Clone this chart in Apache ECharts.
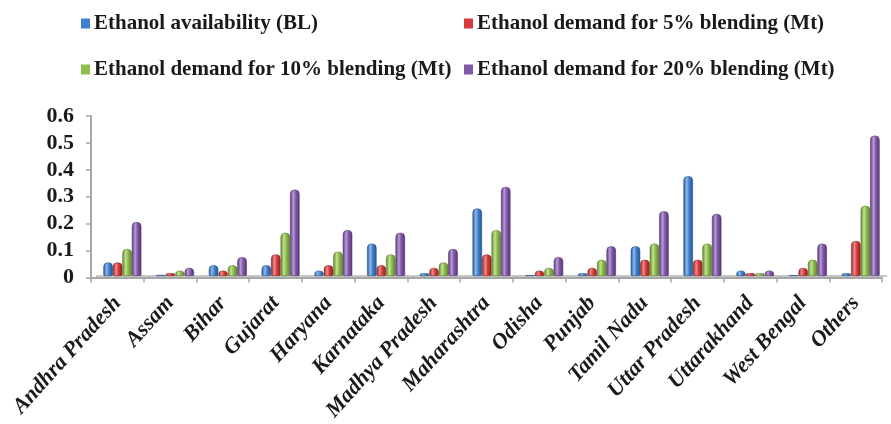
<!DOCTYPE html>
<html>
<head>
<meta charset="utf-8">
<script src="https://cdn.jsdelivr.net/npm/echarts@6/dist/echarts.min.js"></script>
<style>
html,body{margin:0;padding:0;background:#fff;}
#chart{width:891px;height:424px;}
</style>
</head>
<body>
<div id="chart"></div>
<script>
var categories = ['Andhra Pradesh','Assam','Bihar','Gujarat','Haryana','Karnataka','Madhya Pradesh','Maharashtra','Odisha','Punjab','Tamil Nadu','Uttar Pradesh','Uttarakhand','West Bengal','Others'];
var seriesNames = ['Ethanol availability (BL)','Ethanol demand for 5% blending (Mt)','Ethanol demand for 10% blending (Mt)','Ethanol demand for 20% blending (Mt)'];
var availability = [0.05,0.004,0.04,0.04,0.02,0.12,0.01,0.25,0.003,0.01,0.11,0.37,0.02,0.003,0.01];
var demand5  = [0.05,0.01,0.02,0.08,0.04,0.04,0.03,0.08,0.02,0.03,0.06,0.06,0.01,0.03,0.13];
var demand10 = [0.10,0.02,0.04,0.16,0.09,0.08,0.05,0.17,0.03,0.06,0.12,0.12,0.01,0.06,0.26];
var demand20 = [0.20,0.03,0.07,0.32,0.17,0.16,0.10,0.33,0.07,0.11,0.24,0.23,0.02,0.12,0.52];
var yTicks = [0,0.1,0.2,0.3,0.4,0.5,0.6];

var baseColors = ['#3f7fcf','#d63a3a','#8dbd4d','#8258a8'];
var darkColors = ['#24558f','#8f2222','#5b7f2c','#553672'];
var lightColors = ['#8fb9ec','#f08a8a','#c2e28f','#b79bd6'];
var values = [availability, demand5, demand10, demand20];

var font = "'Liberation Serif','Times New Roman',serif";

function grad(i){
  return new echarts.graphic.LinearGradient(0,0,1,0,[
    {offset:0,color:darkColors[i]},
    {offset:0.35,color:lightColors[i]},
    {offset:0.6,color:baseColors[i]},
    {offset:1,color:darkColors[i]}
  ]);
}

var series = values.map(function(v,i){
  var s = {
    name: seriesNames[i],
    type: 'bar',
    xAxisIndex: 1,
    yAxisIndex: 1,
    data: v,
    barGap: '0%',
    barCategoryGap: '28%',
    z: 3,
    itemStyle: {color: grad(i), borderRadius:[4,4,1,1], borderColor: darkColors[i], borderWidth: 0.6},
    emphasis: {disabled:true}
  };
  if (i === 0) {
    s.markLine = {silent:true, symbol:'none', z:1, label:{show:false},
      lineStyle:{color:'#b5b5b5', width:1.5, type:'solid'}, data:[{yAxis:0}]};
  }
  return s;
});

var legendPos = [[76,8],[459,8],[76,54],[459,54]];
var legends = seriesNames.map(function(n,i){
  return {
    data: [{name:n, itemStyle:{color:baseColors[i], borderWidth:0}}],
    left: legendPos[i][0], top: legendPos[i][1],
    icon: 'rect', itemWidth: 9, itemHeight: 10, itemGap: 0,
    textStyle: {fontFamily: font, fontWeight:'bold', fontSize:21, color:'#1a1a1a', padding:[0,0,0,-1]},
    selectedMode: false
  };
});

var option = {
  animation: false,
  backgroundColor: '#ffffff',
  legend: legends,
  grid: [
    {left: 91, right: 9, top: 116, bottom: 146},
    {left: 96, right: 4, top: 114, bottom: 148}
  ],
  xAxis: [
    {
      type: 'category', gridIndex: 0, data: categories,
      axisLine: {show:true, lineStyle:{color:'#a6a6a6', width:2}},
      axisTick: {show:true, length:5, lineStyle:{color:'#a6a6a6', width:1.5}},
      axisLabel: {rotate: 48, interval: 0, margin: 22, fontFamily: font, fontWeight:'bold', fontStyle:'italic', fontSize: 22, color:'#1a1a1a'}
    },
    {
      type: 'category', gridIndex: 1, data: categories, show: false
    }
  ],
  yAxis: [
    {
      type: 'value', gridIndex: 0, min: 0, max: 0.6, interval: 0.1,
      axisLine: {show:true, lineStyle:{color:'#a6a6a6', width:2}},
      axisTick: {show:true, inside:false, length:5, lineStyle:{color:'#a6a6a6', width:1.5}},
      splitLine: {show:false},
      axisLabel: {margin: 17, fontFamily: font, fontWeight:'bold', fontSize: 22, color:'#1a1a1a',
        formatter: function(v){ var t = yTicks.filter(function(x){return Math.abs(x-v)<1e-9;}); return t.length ? (v===0 ? '0' : v.toFixed(1)) : ''; }}
    },
    {
      type: 'value', gridIndex: 1, min: 0, max: 0.6, interval: 0.1, show: false, splitLine:{show:false}
    }
  ],
  series: series
};

var chart = echarts.init(document.getElementById('chart'), null, {renderer:'canvas'});
chart.setOption(option);
</script>
</body>
</html>
